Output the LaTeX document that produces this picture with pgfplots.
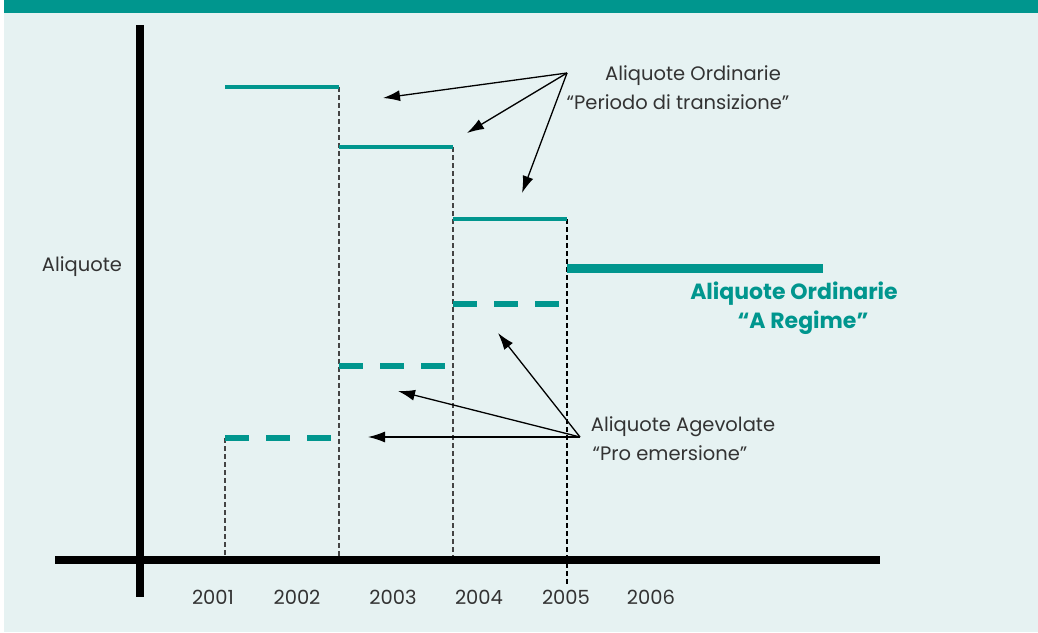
\documentclass[border=0pt]{standalone}
\usepackage{pgfplots}
\pgfplotsset{compat=1.18}
\usepackage{fontspec}
\setmainfont{Poppins}
\usetikzlibrary{arrows.meta}

\definecolor{teal1}{HTML}{00968E}
\definecolor{bgc}{HTML}{E6F2F2}
\definecolor{txt}{HTML}{333333}
\definecolor{gridc}{HTML}{444444}

\begin{document}
\begin{tikzpicture}
\begin{axis}[
    scale only axis,
    width=1038pt, height=632pt,
    xmin=0, xmax=1038, ymin=0, ymax=632,
    y dir=reverse,
    hide axis,
    clip=false,
]
% background and top band
\fill[white] (axis cs:0,0) rectangle (axis cs:1038,632);
\fill[bgc] (axis cs:4,13) rectangle (axis cs:1038,632);
\fill[teal1] (axis cs:4,0) rectangle (axis cs:1038,13);

% dashed drop lines
\addplot[gridc, line width=1.5pt, dash pattern=on 5pt off 3pt] coordinates {(225,438) (225,560)};
\addplot[gridc, line width=1.5pt, dash pattern=on 5pt off 3pt] coordinates {(339,87) (339,560)};
\addplot[gridc, line width=1.5pt, dash pattern=on 5pt off 3pt] coordinates {(453,147) (453,560)};
\addplot[black, line width=1.5pt, dash pattern=on 5pt off 3pt] coordinates {(567,219) (567,586)};

% ordinary rates, transition period
\addplot[teal1, line width=4.5pt] coordinates {(225,87) (339,87)};
\addplot[teal1, line width=4.5pt] coordinates {(339,147) (453,147)};
\addplot[teal1, line width=4.5pt] coordinates {(453,219) (567,219)};
% ordinary rates, regime
\addplot[teal1, line width=9pt] coordinates {(567,268) (823,268)};

% reduced rates
\addplot[teal1, line width=6pt, dash pattern=on 24pt off 17pt] coordinates {(225,438) (332,438)};
\addplot[teal1, line width=6pt, dash pattern=on 24pt off 17pt] coordinates {(339,366) (446,366)};
\addplot[teal1, line width=6pt, dash pattern=on 24pt off 17pt] coordinates {(453,304) (560,304)};

% axes
\addplot[black, line width=8pt] coordinates {(140,25) (140,597)};
\addplot[black, line width=8pt] coordinates {(55,560) (880,560)};

% arrows
\addplot[black, line width=1.3pt, -{Latex[length=17pt,width=11pt]}] coordinates {(567,73) (383,98)};
\addplot[black, line width=1.3pt, -{Latex[length=17pt,width=11pt]}] coordinates {(567,73) (467,133)};
\addplot[black, line width=1.3pt, -{Latex[length=17pt,width=11pt]}] coordinates {(567,73) (522,193)};
\addplot[black, line width=1.3pt, -{Latex[length=17pt,width=11pt]}] coordinates {(580,437) (368,437)};
\addplot[black, line width=1.3pt, -{Latex[length=17pt,width=11pt]}] coordinates {(580,437) (398,391)};
\addplot[black, line width=1.3pt, -{Latex[length=17pt,width=11pt]}] coordinates {(580,437) (498,333)};

% texts
\tikzset{lbl/.style={txt, font=\fontsize{19.5}{24}\selectfont, anchor=base}}
\node[lbl] at (axis cs:693,80) {Aliquote Ordinarie};
\node[lbl] at (axis cs:678,109) {“Periodo di transizione”};
\node[lbl] at (axis cs:683,431) {Aliquote Agevolate};
\node[lbl] at (axis cs:670,460) {“Pro emersione”};
\node[lbl] at (axis cs:82,271) {Aliquote};
\node[teal1, font=\fontsize{22}{29}\selectfont\bfseries, anchor=base] at (axis cs:794,299) {Aliquote Ordinarie};
\node[teal1, font=\fontsize{22}{29}\selectfont\bfseries, anchor=base] at (axis cs:803,328) {“A Regime”};

% year labels
\foreach \x/\y in {213/2001,297/2002,393/2003,479/2004,566/2005,651/2006}{
  \edef\tmp{\noexpand\node[lbl] at (axis cs:\x,604) {\y};}\tmp
}
\end{axis}
\end{tikzpicture}
\end{document}
